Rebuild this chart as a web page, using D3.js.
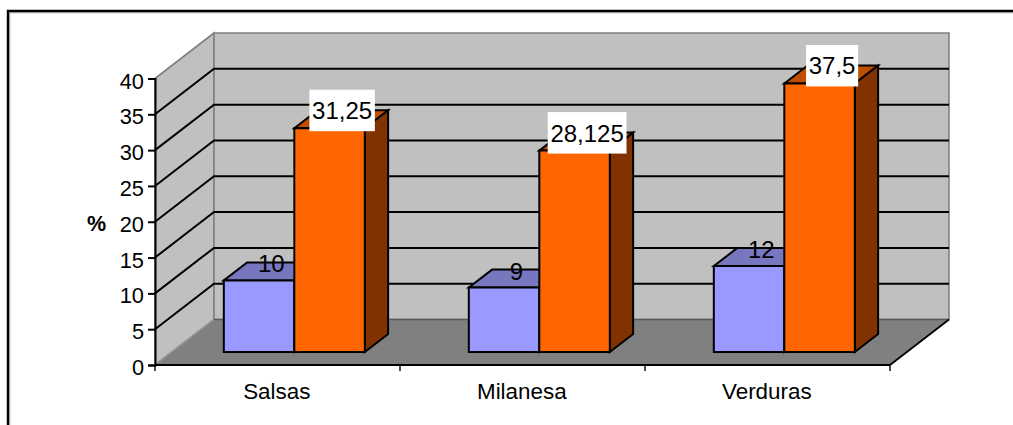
<!DOCTYPE html>
<html>
<head>
<meta charset="utf-8">
<style>
html, body { margin: 0; padding: 0; background: #fff; overflow: hidden; }
text { font-family: "Liberation Sans", Arial, sans-serif; fill: #000; }
</style>
<script src="https://cdnjs.cloudflare.com/ajax/libs/d3/7.8.5/d3.min.js"></script>
</head>
<body>
<svg id="chart" width="1013" height="425"></svg>
<script>
const categories = ["Salsas", "Milanesa", "Verduras"];
const seriesA = [10, 9, 12];
const seriesB = [31.25, 28.125, 37.5];
const seriesALabels = ["10", "9", "12"];
const seriesBLabels = ["31,25", "28,125", "37,5"];
const yTicks = [0, 5, 10, 15, 20, 25, 30, 35, 40];

const svg = d3.select("#chart");

// Chart frame: open at the right and bottom, with a thin grey inner edge
svg.append("path")
  .attr("d", "M9.8,425V12.8H1013")
  .attr("fill", "none").attr("stroke", "#b0b0b0").attr("stroke-width", 1);
svg.append("path")
  .attr("d", "M8,425V11H1013")
  .attr("fill", "none").attr("stroke", "#000").attr("stroke-width", 2.4);

// Front plane of the box, and the oblique shift to its back plane
const x = d3.scaleBand().domain(categories).range([155, 890]);
const y = d3.scaleLinear().domain([0, 40]).range([365, 78.5]);
const depth = { dx: 59, dy: -45.5 };
const shift = t => [depth.dx * t, depth.dy * t];
const yBase = y(0);

// Walls and floor
const y40 = y(40);
const poly = pts => "M" + pts.map(p => p.join(",")).join("L") + "Z";
svg.append("path")
  .attr("d", poly([[155, y40], [155 + depth.dx, y40 + depth.dy], [155 + depth.dx, yBase + depth.dy], [155, yBase]]))
  .attr("fill", "#c0c0c0").attr("stroke", "#808080").attr("stroke-width", 1.6);
svg.append("path")
  .attr("d", poly([[155 + depth.dx, y40 + depth.dy], [890 + depth.dx, y40 + depth.dy], [890 + depth.dx, yBase + depth.dy], [155 + depth.dx, yBase + depth.dy]]))
  .attr("fill", "#c0c0c0").attr("stroke", "#808080").attr("stroke-width", 1.6);
svg.append("path")
  .attr("d", poly([[155, yBase], [155 + depth.dx, yBase + depth.dy], [890 + depth.dx, yBase + depth.dy], [890, yBase]]))
  .attr("fill", "#808080");
svg.append("line")
  .attr("x1", 155).attr("y1", yBase).attr("x2", 155 + depth.dx).attr("y2", yBase + depth.dy)
  .attr("stroke", "#a0a0a0").attr("stroke-width", 1);
svg.append("line")
  .attr("x1", 155 + depth.dx).attr("y1", yBase + depth.dy).attr("x2", 890 + depth.dx).attr("y2", yBase + depth.dy)
  .attr("stroke", "#5a5a5a").attr("stroke-width", 1.4);

// Gridlines on the left and back walls
const grid = svg.append("g").attr("stroke", "#000").attr("stroke-width", 2).attr("fill", "none");
yTicks.filter(d => d > 0 && d < 40).forEach(d => {
  grid.append("path")
    .attr("d", `M155,${y(d)}L${155 + depth.dx},${y(d) + depth.dy}H${890 + depth.dx}`);
});

// Floor edge and axes
svg.append("line")
  .attr("x1", 890).attr("y1", yBase).attr("x2", 890 + depth.dx).attr("y2", yBase + depth.dy)
  .attr("stroke", "#000").attr("stroke-width", 1.8);

const yAxis = d3.axisLeft(y).tickValues(yTicks).tickSize(7).tickPadding(4).tickFormat(d3.format("d"));
const yG = svg.append("g").attr("transform", "translate(155,0)").call(yAxis);
yG.selectAll("path, line").attr("stroke", "#000").attr("stroke-width", 2);
yG.selectAll("text").attr("font-size", 21.8).attr("dy", "0.44em");

const xBoundaries = d3.range(categories.length + 1).map(i => 155 + x.step() * i);
svg.append("line").attr("x1", 155).attr("x2", 890).attr("y1", yBase).attr("y2", yBase)
  .attr("stroke", "#000").attr("stroke-width", 2.2);
svg.append("g").selectAll("line").data(xBoundaries).join("line")
  .attr("x1", d => d).attr("x2", d => d).attr("y1", yBase).attr("y2", yBase + 6)
  .attr("stroke", "#000").attr("stroke-width", 1.4);
svg.append("g").selectAll("text").data(categories).join("text")
  .attr("x", d => x(d) + x.bandwidth() / 2 - 0.7)
  .attr("y", 398.5)
  .attr("text-anchor", "middle").attr("font-size", 22.4)
  .text(d => d);

svg.append("text").attr("x", 96.5).attr("y", 231)
  .attr("text-anchor", "middle").attr("font-size", 21.5).attr("font-weight", "bold").text("%");

// Oblique bars standing on the floor
const barWidth = 70.5;
const frontT = 0.285, backT = 0.68;
const [fx, fy] = shift(frontT);
const [bx, by] = shift(backT);
const scaleH = d => yBase - y(d);

function bar3d(value, x0, colors) {
  const top = yBase + fy - scaleH(value);
  const bottom = yBase + fy;
  const g = svg.append("g").attr("stroke", "#000").attr("stroke-width", 2).attr("stroke-linejoin", "miter");
  const dx = bx - fx, dy = by - fy;
  g.append("path").attr("fill", colors.top)
    .attr("d", poly([[x0, top], [x0 + dx, top + dy], [x0 + barWidth + dx, top + dy], [x0 + barWidth, top]]));
  g.append("path").attr("fill", colors.side)
    .attr("d", poly([[x0 + barWidth, top], [x0 + barWidth + dx, top + dy], [x0 + barWidth + dx, bottom + dy], [x0 + barWidth, bottom]]));
  g.append("path").attr("fill", colors.front)
    .attr("d", poly([[x0, top], [x0 + barWidth, top], [x0 + barWidth, bottom], [x0, bottom]]));
}

const blue = { front: "#9999ff", top: "#7777c0", side: "#4d4d80" };
const orange = { front: "#ff6600", top: "#c04d00", side: "#803300" };

categories.forEach((c, i) => {
  const mid = x(c) + x.bandwidth() / 2 + fx;
  bar3d(seriesA[i], mid - barWidth, blue);
  bar3d(seriesB[i], mid, orange);
});

// Value labels: the first series sits plainly on the bar top, the second on a white plate
categories.forEach((c, i) => {
  const mid = x(c) + x.bandwidth() / 2 + fx;
  const topA = yBase + fy - scaleH(seriesA[i]);
  svg.append("text")
    .attr("x", mid - barWidth + 47.5)
    .attr("y", topA - 8)
    .attr("text-anchor", "middle").attr("font-size", 24).text(seriesALabels[i]);

  const topB = yBase + fy - scaleH(seriesB[i]);
  const cx = mid + 47.8;
  const lab = svg.append("g");
  const t = lab.append("text")
    .attr("x", cx).attr("y", topB - 9)
    .attr("text-anchor", "middle").attr("font-size", 24).text(seriesBLabels[i]);
  const w = t.node().getComputedTextLength();
  lab.insert("rect", "text")
    .attr("x", cx - w / 2 - 2.7).attr("y", topB - 38.5)
    .attr("width", w + 5.4).attr("height", 41.5)
    .attr("fill", "#fff");
});
</script>
</body>
</html>
